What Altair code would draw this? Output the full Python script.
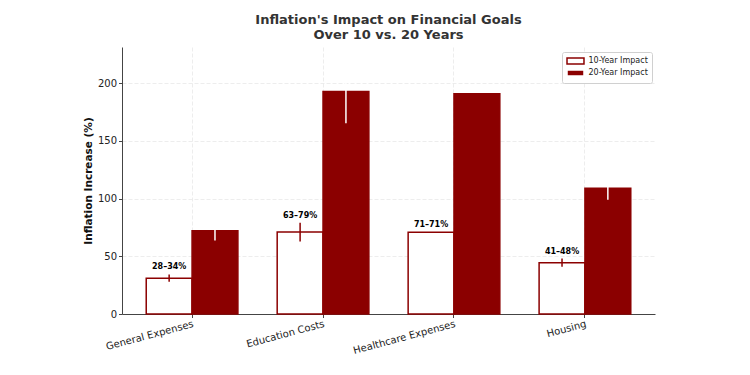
import altair as alt
import pandas as pd

categories = ["General Expenses", "Education Costs", "Healthcare Expenses", "Housing"]
periods = ["10-Year Impact", "20-Year Impact"]
ten_year = [31.1, 71.0, 70.8, 44.5]
ten_err = [3.2, 8.1, 0.0, 3.6]
twenty_year = [72.2, 193.0, 191.0, 109.0]
twenty_err = [8.4, 27.7, 0.0, 9.9]
range_labels = ["28–34%", "63–79%", "71–71%", "41–48%"]

rows = []
for i, c in enumerate(categories):
    rows.append({"category": c, "period": periods[0], "value": ten_year[i], "err": ten_err[i],
                 "label": range_labels[i]})
    rows.append({"category": c, "period": periods[1], "value": twenty_year[i], "err": twenty_err[i],
                 "label": ""})
df = pd.DataFrame(rows)

DARK = "#8B0000"
FONT = "DejaVu Sans"

x_enc = alt.X("category:N", sort=categories,
              scale=alt.Scale(paddingInner=0.3, paddingOuter=0.185),
              axis=alt.Axis(title=None, labelAngle=-15, labelAlign="right", labelBaseline="top",
                            labelFontSize=10, labelColor="#222", labelFont=FONT,
                            bandPosition=0.5, grid=True, tickSize=3.5, tickColor="#444",
                            domainColor="#444", labelPadding=1))
xo_enc = alt.XOffset("period:N", sort=periods, scale=alt.Scale(paddingInner=0, paddingOuter=0))
y_scale = alt.Scale(domain=[0, 231.5], nice=False)

base = alt.Chart(df)

bars = base.mark_bar(stroke=DARK, strokeWidth=1.5).encode(
    x=x_enc,
    xOffset=xo_enc,
    y=alt.Y("value:Q", scale=y_scale,
            axis=alt.Axis(title="Inflation Increase (%)", values=[0, 50, 100, 150, 200],
                          titleFontSize=10.5, titleFontWeight="bold", titleColor="#111",
                          titleFont=FONT, labelFont=FONT, labelFontSize=10, labelColor="#222",
                          tickSize=3.5, tickColor="#444", domainColor="#444", titlePadding=4)),
    fill=alt.Fill("period:N", sort=periods,
                  scale=alt.Scale(domain=periods, range=["white", DARK]),
                  legend=alt.Legend(title=None, orient="none", legendX=440, legendY=5,
                                    symbolType="M-2,-0.7L2,-0.7L2,0.7L-2,0.7Z",
                                    symbolSize=72, symbolOffset=4.5, symbolStrokeColor=DARK,
                                    symbolStrokeWidth=1.5, labelFontSize=8, labelFont=FONT,
                                    labelColor="#222", strokeColor="#d0d0d0", fillColor="white",
                                    padding=4, cornerRadius=2, rowPadding=0, labelOffset=8)),
)

errs = base.transform_filter("datum.err > 0").transform_calculate(
    low="datum.value - datum.err", high="datum.value + datum.err"
).mark_rule(strokeWidth=1.5).encode(
    x=alt.X("category:N", sort=categories),
    xOffset=alt.XOffset("period:N", sort=periods),
    y="low:Q",
    y2="high:Q",
    stroke=alt.Stroke("period:N", scale=alt.Scale(domain=periods, range=[DARK, "white"]),
                      legend=None),
)

labels = base.transform_filter("datum.label != ''").transform_calculate(
    high="datum.value + datum.err"
).mark_text(fontWeight="bold", fontSize=8, font=FONT, baseline="bottom", dy=-3,
            color="black").encode(
    x=alt.X("category:N", sort=categories),
    xOffset=alt.XOffset("period:N", sort=periods),
    y="high:Q",
    text="label:N",
)

chart = alt.layer(bars, errs, labels).properties(
    width=533, height=267,
    title=alt.Title(["Inflation's Impact on Financial Goals", "Over 10 vs. 20 Years"],
                    fontSize=13, font=FONT, fontWeight="bold", color="#333",
                    anchor="middle", lineHeight=15, offset=5),
    autosize=alt.AutoSizeParams(type="none"),
    padding={"left": 122, "top": 47, "right": 95, "bottom": 61},
).configure_view(stroke=None).configure_axis(
    gridColor="#e8e8e8", gridDash=[4, 2], gridWidth=0.8
)

chart.save("out.html", embed_options={"renderer": "svg", "actions": False})
